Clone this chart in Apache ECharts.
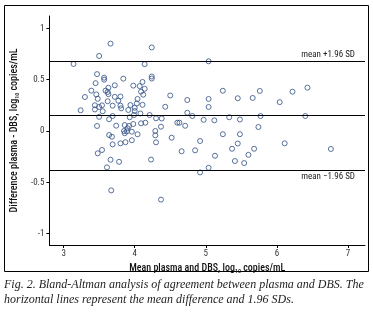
<!DOCTYPE html>
<html><head><meta charset="utf-8">
<script src="https://cdn.jsdelivr.net/npm/echarts@6/dist/echarts.min.js"></script>
<style>html,body{margin:0;padding:0;background:#fff}#c{width:373px;height:324px}</style>
</head><body><div id="c"></div>
<script>
// Mean of plasma and DBS (log10 copies/mL)
var meanPlasmaDbs = [3.14,3.50,3.66,4.24,4.14,5.04,3.47,3.57,3.57,3.45,3.72,3.84,4.24,4.24,4.11,3.98,4.07,4.14,4.09,4.12,3.63,3.59,3.62,3.39,3.46,3.30,3.48,3.63,3.72,3.80,3.77,3.62,4.04,4.43,4.50,4.74,5.04,5.04,5.24,5.45,5.66,5.76,6.04,6.22,6.43,
3.24,3.44,3.44,3.50,3.54,3.55,3.69,3.80,3.81,3.91,3.94,4.00,4.03,4.11,4.00,3.50,3.69,3.64,3.93,3.99,4.08,4.21,4.30,4.38,4.74,4.81,4.97,5.12,5.33,5.48,5.77,6.40,
3.47,3.74,3.86,3.92,3.98,3.85,3.89,3.96,3.90,3.86,4.04,4.09,4.15,4.37,4.29,4.29,4.30,3.64,3.68,3.69,3.80,3.87,3.96,4.52,4.60,4.63,4.71,4.92,5.24,5.48,5.74,5.45,6.11,
3.48,3.54,3.66,3.78,3.61,4.23,3.67,4.37,4.66,4.85,4.92,5.04,5.13,5.37,5.41,5.54,5.60,5.68,6.76];
// Difference plasma - DBS (log10 copies/mL)
var diffPlasmaDbs = [0.653,0.731,0.851,0.814,0.651,0.679,0.554,0.519,0.500,0.466,0.445,0.510,0.531,0.511,0.478,0.442,0.437,0.411,0.383,0.354,0.421,0.393,0.380,0.393,0.356,0.331,0.314,0.359,0.333,0.336,0.295,0.290,0.312,0.236,0.346,0.302,0.312,0.234,0.392,0.319,0.322,0.390,0.281,0.383,0.422,
0.202,0.251,0.210,0.234,0.250,0.192,0.247,0.247,0.221,0.205,0.253,0.226,0.268,0.255,0.195,0.138,0.146,0.115,0.134,0.156,0.171,0.156,0.124,0.122,0.178,0.146,0.109,0.104,0.134,0.112,0.146,0.146,
0.049,0.052,0.058,0.049,0.068,0.000,-0.003,-0.007,0.026,-0.022,-0.032,0.075,0.081,0.042,0.000,-0.042,-0.110,-0.039,-0.056,-0.130,-0.120,-0.109,-0.090,-0.065,0.081,0.081,0.051,-0.097,-0.031,-0.031,0.039,-0.122,-0.120,
-0.217,-0.185,-0.280,-0.300,-0.354,-0.278,-0.578,-0.668,-0.197,-0.188,-0.403,-0.358,-0.241,-0.173,-0.292,-0.312,-0.232,-0.173,-0.175];
var meanDiff = 0.153;
var upperLoA = 0.68;
var lowerLoA = -0.38;
var xTicks = [3,4,5,6,7];
var yTicks = [-1,-0.5,0,0.5,1];
var upperLabel = 'mean +1.96 SD';
var lowerLabel = 'mean \u22121.96 SD';
var caption1 = 'Fig. 2. Bland-Altman analysis of agreement between plasma and DBS. The';
var caption2 = 'horizontal lines represent the mean difference and 1.96 SDs.';

var pts = meanPlasmaDbs.map(function(x,i){return [x, diffPlasmaDbs[i]];});
var sans = "'Liberation Sans Narrow','Roboto Condensed',Roboto,sans-serif";
var chart = echarts.init(document.getElementById('c'), null, {renderer:'canvas'});
chart.setOption({
  animation:false,
  grid:{left:42,right:8,top:16,bottom:79,containLabel:false},
  xAxis:{type:'value',min:2.8,max:7.24,
    name:'Mean plasma and DBS, log{sub|10} copies/mL',nameLocation:'middle',nameGap:15,
    nameTextStyle:{fontFamily:sans,fontSize:10,color:'#111',fontWeight:500,lineHeight:12,
      rich:{sub:{fontFamily:sans,fontSize:6,verticalAlign:'bottom',lineHeight:9,color:'#111'}}},
    axisLine:{onZero:false,lineStyle:{color:'#000',width:1}},
    axisTick:{show:true,length:3,customValues:xTicks,lineStyle:{color:'#000'}},
    axisLabel:{customValues:xTicks,fontFamily:sans,fontSize:9,color:'#333',margin:4},
    splitLine:{show:false}},
  yAxis:{type:'value',min:-1.11,max:1.12,
    name:'Difference plasma - DBS, log{sub|10} copies/mL',nameLocation:'middle',nameGap:26,nameRotate:90,
    nameTextStyle:{fontFamily:sans,fontSize:10,color:'#111',fontWeight:500,lineHeight:12,
      rich:{sub:{fontFamily:sans,fontSize:6,verticalAlign:'bottom',lineHeight:9,color:'#111'}}},
    axisLine:{show:true,onZero:false,lineStyle:{color:'#000',width:1}},
    axisTick:{show:true,length:3,customValues:yTicks,lineStyle:{color:'#000'}},
    axisLabel:{customValues:yTicks,fontFamily:sans,fontSize:9,color:'#333',margin:5},
    splitLine:{show:false}},
  series:[{type:'scatter',data:pts,symbol:'circle',symbolSize:5,
    itemStyle:{color:'rgba(0,0,0,0)',borderColor:'#2f4f83',borderWidth:1},
    markLine:{silent:true,symbol:['none','none'],animation:false,
      lineStyle:{color:'#000',width:1,type:'solid'},
      data:[
        {yAxis:upperLoA,label:{show:true,formatter:upperLabel,position:'insideEndTop',distance:[10,2],fontFamily:sans,fontSize:9,color:'#222'}},
        {yAxis:meanDiff,label:{show:false}},
        {yAxis:lowerLoA,label:{show:true,formatter:lowerLabel,position:'insideEndBottom',distance:[10,2],fontFamily:sans,fontSize:9,color:'#222'}}
      ]}}],
  graphic:[
    {type:'rect',shape:{x:4.5,y:5.5,width:364,height:266},style:{fill:'none',stroke:'#000',lineWidth:1},silent:true},
    {type:'text',left:4,top:279,style:{text:caption1,font:"italic 12px 'Liberation Serif','DejaVu Serif',serif",fill:'#222'}},
    {type:'text',left:4,top:294,style:{text:caption2,font:"italic 12px 'Liberation Serif','DejaVu Serif',serif",fill:'#222'}}
  ]
});
</script></body></html>
